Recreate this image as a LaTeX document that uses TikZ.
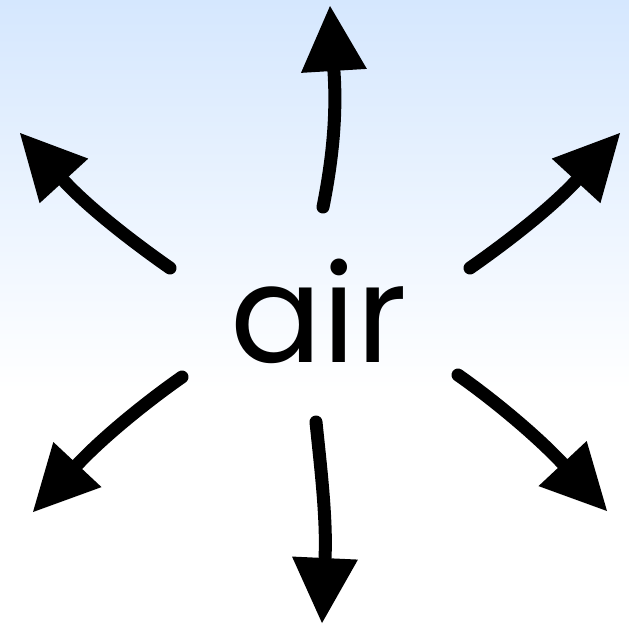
\documentclass[tikz,border=0pt]{standalone}
\usepackage{fontspec}
\setmainfont{Poppins}
\usetikzlibrary{arrows.meta}
\definecolor{bgtop}{RGB}{213,231,254}
\tikzset{
  arr/.style={line width=13pt, line cap=round, -{Triangle[length=65pt,width=66pt,line width=0pt]}},
  word/.style={inner sep=0pt, anchor=base, font=\fontsize{136}{136}\selectfont}
}
\begin{document}
\begin{tikzpicture}[x=1pt,y=-1pt]
\useasboundingbox (0,0) rectangle (629,635);
\shade[top color=bgtop, bottom color=white] (0,0) rectangle (629,390);
\fill[white] (0,390) rectangle (629,635);
\node[word] (air) at (319,362) {air};
% tails
\coordinate (tN) at (323,207);
\coordinate (tNW) at (170,268);
\coordinate (tNE) at (470,268);
\coordinate (tSW) at (182,377);
\coordinate (tSE) at (458,375);
\coordinate (tS) at (316,422);
% head bases
\coordinate (bN) at (334,72);
\coordinate (bNW) at (64,181);
\coordinate (bNE) at (576,181);
\coordinate (bSW) at (77,465);
\coordinate (bSE) at (563,464);
\coordinate (bS) at (325,558);
% tips
\coordinate (pN) at (330,6);
\coordinate (pNW) at (20,133);
\coordinate (pNE) at (620,133);
\coordinate (pSW) at (33,512);
\coordinate (pSE) at (607,511);
\coordinate (pS) at (322,623);
\draw[arr] (tN) .. controls (332,162) and (337,117) .. (bN) -- (pN);
\draw[arr] (tNW) .. controls (137,245) and (91,210) .. (bNW) -- (pNW);
\draw[arr] (tNE) .. controls (503,245) and (549,210) .. (bNE) -- (pNE);
\draw[arr] (tSW) .. controls (149,400) and (104,436) .. (bSW) -- (pSW);
\draw[arr] (tSE) .. controls (491,398) and (536,435) .. (bSE) -- (pSE);
\draw[arr] (tS) .. controls (320,462) and (327,518) .. (bS) -- (pS);
\end{tikzpicture}
\end{document}
